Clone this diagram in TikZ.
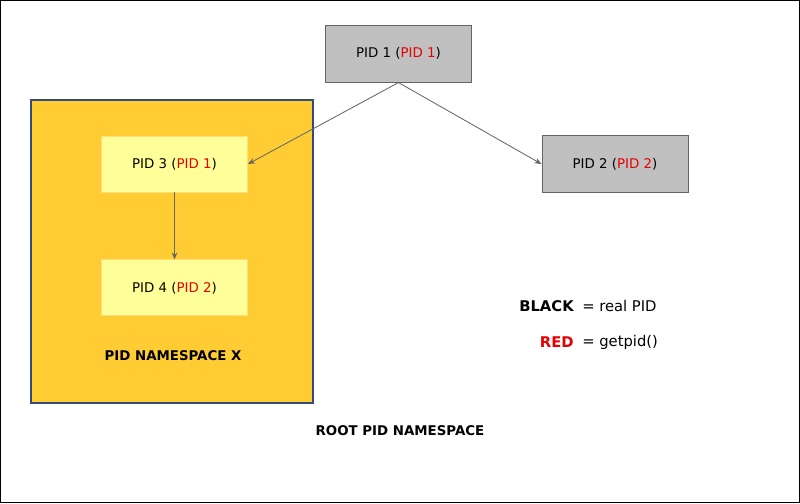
\documentclass[tikz,border=0pt]{standalone}
\usepackage{fontspec}
\setmainfont{DejaVu Sans}
\usetikzlibrary{arrows.meta, positioning}
\definecolor{pidgray}{RGB}{192,192,192}
\definecolor{pidedge}{RGB}{100,100,100}
\definecolor{nsfill}{RGB}{255,204,51}
\definecolor{nsedge}{RGB}{51,74,122}
\definecolor{childfill}{RGB}{255,255,153}
\definecolor{childedge}{RGB}{255,221,119}
\definecolor{pidred}{RGB}{230,0,0}
\definecolor{arrgray}{RGB}{102,102,102}
\tikzset{
  rootproc/.style={rectangle, draw=pidedge, fill=pidgray, minimum width=3.65cm,
    minimum height=1.43cm, font=\fontsize{9.5}{11}\selectfont, line width=0.6pt},
  childproc/.style={rectangle, draw=childedge, fill=childfill, minimum width=3.65cm,
    minimum height=1.4cm, font=\fontsize{9.5}{11}\selectfont, line width=0.6pt},
  nsbox/.style={rectangle, draw=nsedge, fill=nsfill, line width=0.8pt},
  nslabel/.style={font=\fontsize{9.5}{11}\selectfont\bfseries},
  legend/.style={inner sep=0pt, font=\fontsize{10.5}{12}\selectfont},
  legendkey/.style={legend, anchor=east, font=\fontsize{10.5}{12}\selectfont\bfseries},
  arrow/.style={-{Stealth[length=5pt,width=4pt]}, arrgray, line width=0.6pt}
}
\newcommand{\rpid}[1]{\textcolor{pidred}{#1}}
\begin{document}
\begin{tikzpicture}[x=0.025cm, y=-0.025cm]
  % frame
  \draw[black, line width=0.8pt, fill=white] (0.5,0.5) rectangle (799.5,502.5);
  % namespace X
  \node[nsbox, minimum width=7.05cm, minimum height=7.575cm] (nsx) at (172,251.5) {};
  \node[childproc] (pidthree) at (174.5,164) {PID 3 (\rpid{PID 1})};
  \node[childproc, below=1.675cm of pidthree] (pidfour) {PID 4 (\rpid{PID 2})};
  \node[nslabel] (nsxlabel) at (173,356) {PID NAMESPACE X};
  % root namespace
  \node[rootproc] (pidone) at (398.5,53.5) {PID 1 (\rpid{PID 1})};
  \node[rootproc] (pidtwo) at (615,164) {PID 2 (\rpid{PID 2})};
  \node[nslabel] (rootlabel) at (400,431) {ROOT PID NAMESPACE};
  % legend
  \node[legendkey] (black) at (574,306) {BLACK};
  \node[legend, anchor=west] (blackdef) at (582,306) {= real PID};
  \node[legendkey, text=pidred] (red) at (574,342) {RED};
  \node[legend, anchor=west] (reddef) at (582,342) {= getpid()};
  % connectors
  \draw[arrow] (pidone.south) -- (pidthree.east);
  \draw[arrow] (pidone.south) -- (pidtwo.west);
  \draw[arrow] (pidthree) -- (pidfour);
\end{tikzpicture}
\end{document}
